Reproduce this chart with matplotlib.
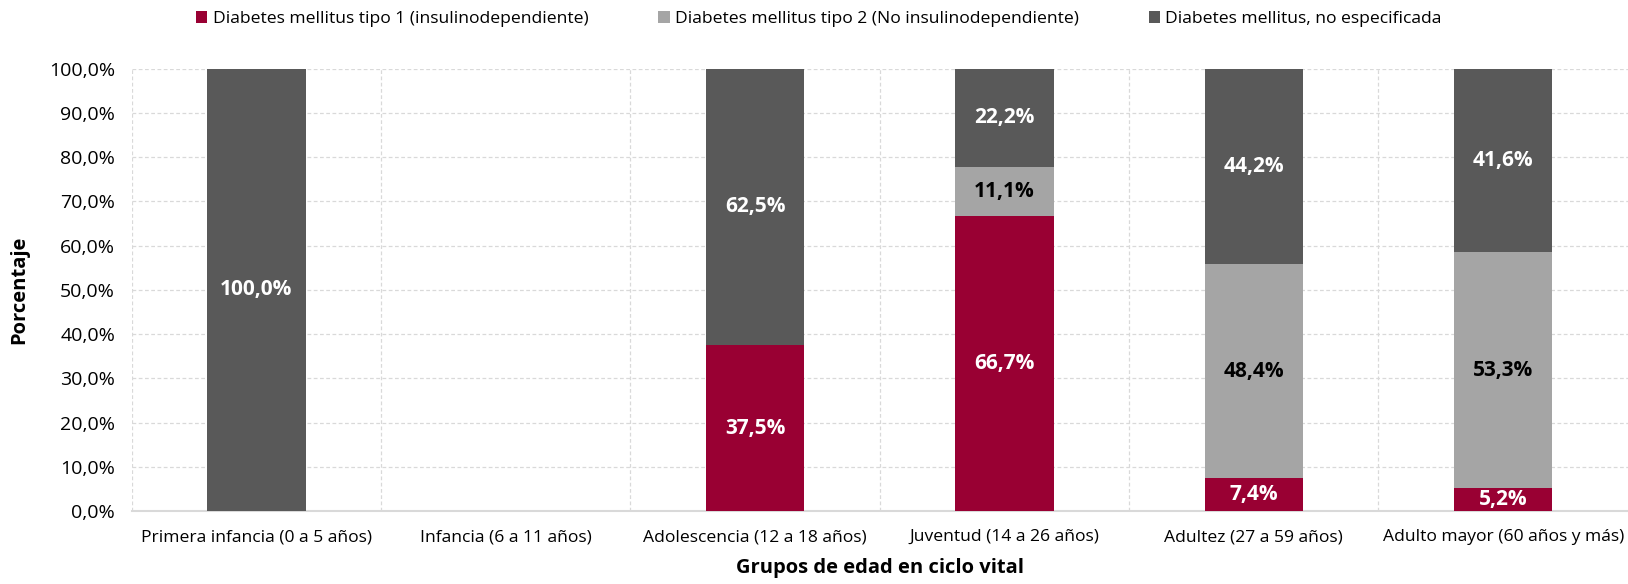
import matplotlib
matplotlib.use("Agg")
import matplotlib.pyplot as plt
import numpy as np

grupos = ["Primera infancia (0 a 5 años)", "Infancia (6 a 11 años)",
          "Adolescencia (12 a 18 años)", "Juventud (14 a 26 años)",
          "Adultez (27 a 59 años)", "Adulto mayor (60 años y más)"]
series = ["Diabetes mellitus tipo 1 (insulinodependiente)",
          "Diabetes mellitus tipo 2 (No insulinodependiente)",
          "Diabetes mellitus, no especificada"]
tipo1 = [0.0, 0.0, 37.5, 66.7, 7.4, 5.2]
tipo2 = [0.0, 0.0, 0.0, 11.1, 48.4, 53.3]
no_esp = [100.0, 0.0, 62.5, 22.2, 44.2, 41.6]

colores = ["#990033", "#A5A5A5", "#595959"]
txt_col = ["white", "black", "white"]

plt.rcParams["font.family"] = ["Open Sans", "DejaVu Sans"]

fig = plt.figure(figsize=(16.28, 5.84), dpi=100)
ax = fig.add_axes([0.0809, 0.125, 0.919, 0.7575])

x = np.arange(len(grupos))
base = np.zeros(len(grupos))
for vals, nombre, c, tc in zip([tipo1, tipo2, no_esp], series, colores, txt_col):
    vals = np.array(vals)
    ax.bar(x, vals, 0.395, bottom=base, color=c, label=nombre, zorder=3)
    for xi, b, v in zip(x, base, vals):
        if v > 0:
            ax.text(xi, b + v / 2, f"{v:.1f}%".replace(".", ","), ha="center",
                    va="center", color=tc, fontsize=15, fontweight="bold", zorder=4)
    base += vals

ax.set_xlim(-0.5, len(grupos) - 0.5)
ax.set_ylim(0, 100)
ax.set_yticks(np.arange(0, 101, 10))
ax.set_yticklabels([f"{v:.1f}%".replace(".", ",") for v in np.arange(0, 101, 10)])
ax.set_xticks(x)
ax.set_xticklabels(grupos)
ax.tick_params(axis="both", length=0, colors="black")
ax.tick_params(axis="x", pad=13, labelsize=12.6)
ax.tick_params(axis="y", pad=12, labelsize=14)

ax.grid(axis="y", color="#D9D9D9", linestyle=(0, (3, 2)), linewidth=0.9, zorder=0)
for b in np.arange(-0.5, len(grupos) - 0.5, 1):
    ax.axvline(b, color="#D9D9D9", linestyle=(0, (3, 2)), linewidth=0.9, zorder=0)
for s in ["top", "right", "left"]:
    ax.spines[s].set_visible(False)
ax.spines["bottom"].set_color("#D9D9D9")
ax.spines["bottom"].set_linewidth(1.5)

ax.set_ylabel("Porcentaje", fontsize=14.5, fontweight="bold", labelpad=14)
ax.set_xlabel("Grupos de edad en ciclo vital", fontsize=14.5, fontweight="bold", labelpad=9)

fig.legend(loc="center", bbox_to_anchor=(0.503, 0.967), ncol=3, frameon=False,
           fontsize=12.6, handlelength=0.65, handleheight=0.65, handletextpad=0.3,
           columnspacing=4.0)

fig.savefig("out.png", dpi=100)
